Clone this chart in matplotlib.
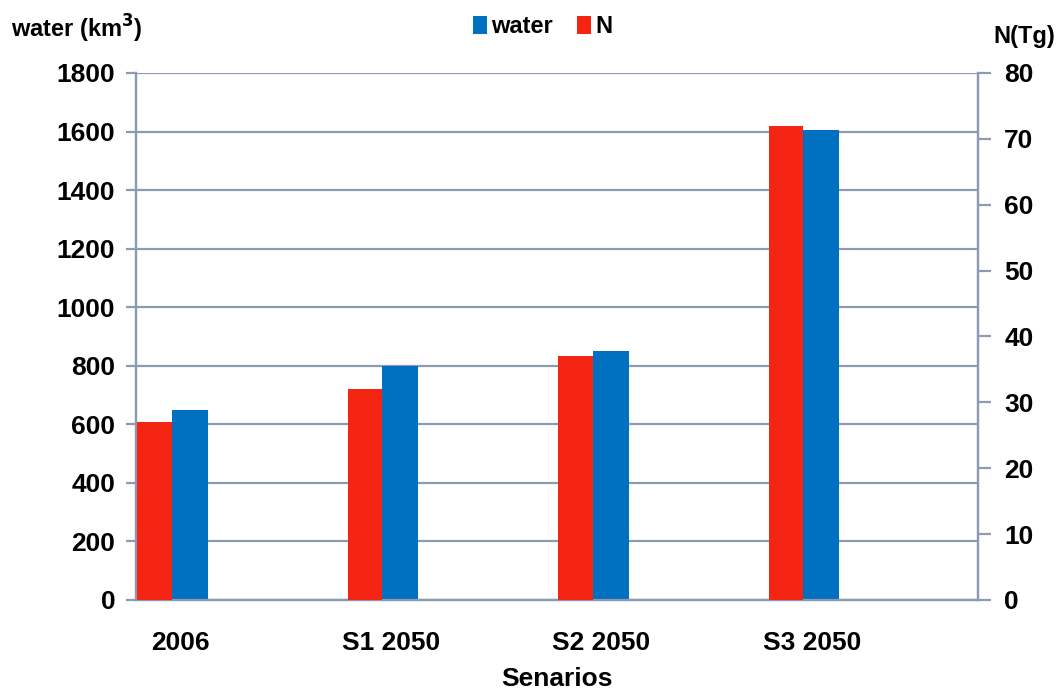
import matplotlib.pyplot as plt
import numpy as np
from matplotlib.patches import Patch


# DATA
SCENARIOS = ["2006", "S1 2050", "S2 2050", "S3 2050"]
WATER_KM3 = [650, 800, 850, 1605]
N_TG = [27, 32, 37, 72]

WATER_TICKS = [0, 200, 400, 600, 800, 1000, 1200, 1400, 1600, 1800]
N_TICKS = [0, 10, 20, 30, 40, 50, 60, 70, 80]


# STYLE
RED = "#F42613"
BLUE = "#0070C0"
GRID = "#8C9BB2"
FONT = ["Liberation Sans Narrow", "Liberation Sans", "DejaVu Sans"]

plt.rcParams["font.family"] = FONT
plt.rcParams["font.weight"] = "bold"


def main():
    figure = plt.figure(figsize=(10.6, 6.95), dpi=100)

    axis = figure.add_axes([0.1283, 0.1367, 0.7943, 0.7583])
    axis_n = axis.twinx()

    slots = np.arange(len(SCENARIOS))

    axis_n.bar(
        slots + 0.007,
        N_TG,
        width=0.163,
        align="edge",
        color=RED,
        zorder=3,
    )

    axis.bar(
        slots + 0.170,
        WATER_KM3,
        width=0.172,
        align="edge",
        color=BLUE,
        zorder=3,
    )

    axis.set_xlim(0, len(SCENARIOS))
    axis.set_ylim(0, 1800)
    axis_n.set_ylim(0, 80)

    axis.set_yticks(WATER_TICKS)
    axis_n.set_yticks(N_TICKS)

    axis.set_xticks(slots + 0.21)
    axis.set_xticklabels(SCENARIOS)

    axis.yaxis.grid(True, color=GRID, linewidth=1.6, zorder=0)
    axis.set_axisbelow(True)

    for ax in (axis, axis_n):
        ax.spines["top"].set_visible(False)
        for side in ("left", "right", "bottom"):
            ax.spines[side].set_color(GRID)
            ax.spines[side].set_linewidth(1.6)

    axis.tick_params(
        axis="y",
        direction="out",
        length=7,
        width=1.6,
        color=GRID,
        labelsize=19,
        pad=8,
    )
    axis_n.tick_params(
        axis="y",
        direction="out",
        length=9,
        width=1.6,
        color=GRID,
        labelsize=19,
        pad=10,
    )
    axis.tick_params(
        axis="x",
        length=0,
        labelsize=19,
        pad=22,
    )

    axis.set_xlabel("Senarios", fontsize=19, fontweight="bold", labelpad=9)

    figure.text(
        0.01,
        0.958,
        "water (km$^{\\mathbf{3}}$)",
        fontsize=17,
        fontweight="bold",
        ha="left",
        va="center",
    )

    figure.text(
        0.995,
        0.948,
        "N(Tg)",
        fontsize=17,
        fontweight="bold",
        ha="right",
        va="center",
    )

    handles = [
        Patch(facecolor=BLUE, label="water"),
        Patch(facecolor=RED, label="N"),
    ]

    figure.legend(
        handles=handles,
        loc="center",
        bbox_to_anchor=(0.512, 0.962),
        ncol=2,
        frameon=False,
        fontsize=17,
        handlelength=0.6,
        handleheight=0.8,
        handletextpad=0.2,
        columnspacing=1.0,
    )

    figure.savefig("out.png", dpi=100)
    plt.close(figure)


if __name__ == "__main__":
    main()
